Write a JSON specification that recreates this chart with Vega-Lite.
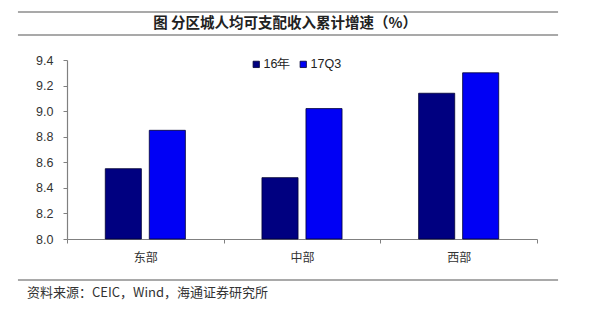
{
  "$schema": "https://vega.github.io/schema/vega-lite/v6.json",
  "autosize": "none",
  "width": 470,
  "height": 179,
  "padding": {"left": 67, "top": 60, "right": 63, "bottom": 77},
  "background": "white",
  "config": {"view": {"stroke": null}, "font": "Liberation Sans", "axisY": {"labelOverlap": false, "tickCount": 8}},
  "data": {
    "values": [
      {"region": "东部", "series": "16年", "value": 8.55},
      {"region": "东部", "series": "17Q3", "value": 8.85},
      {"region": "中部", "series": "16年", "value": 8.48},
      {"region": "中部", "series": "17Q3", "value": 9.02},
      {"region": "西部", "series": "16年", "value": 9.14},
      {"region": "西部", "series": "17Q3", "value": 9.30}
    ]
  },
  "layer": [
    {
      "mark": {"type": "bar", "stroke": "#000033", "strokeWidth": 0.8},
      "encoding": {
        "x": {
          "field": "region", "type": "nominal", "sort": ["东部", "中部", "西部"],
          "scale": {"paddingInner": 0, "paddingOuter": 0},
          "axis": {"title": null, "labelAngle": 0, "tickBand": "extent", "tickSize": 4, "labelPadding": 9,
                   "labelFont": "Noto Sans CJK SC", "labelFontSize": 12, "labelColor": "#333333",
                   "domainColor": "#808080", "tickColor": "#808080", "domainWidth": 1.2}
        },
        "xOffset": {
          "field": "series", "type": "nominal", "sort": ["16年", "17Q3"],
          "scale": {"paddingInner": 0.18, "paddingOuter": 0.87}
        },
        "y": {
          "field": "value", "type": "quantitative",
          "scale": {"domain": [8, 9.4], "zero": false, "nice": false},
          "axis": {"title": null, "values": [8, 8.2, 8.4, 8.6, 8.8, 9, 9.2, 9.4], "format": ".1f", "grid": false,
                   "labelOverlap": false, "tickSize": 4, "labelPadding": 10, "labelFontSize": 12.5, "labelColor": "#333333",
                   "domainColor": "#808080", "tickColor": "#808080", "domainWidth": 1.2}
        },
        "y2": {"datum": 8},
        "color": {
          "field": "series", "type": "nominal", "sort": ["16年", "17Q3"],
          "scale": {"range": ["#000080", "#0000F5"]},
          "legend": {"title": null, "orient": "none", "legendX": 183, "legendY": -2, "direction": "horizontal",
                     "symbolType": "square", "symbolSize": 40, "symbolStrokeColor": "#000033", "symbolStrokeWidth": 0.8,
                     "labelFontSize": 12.5, "labelColor": "#222222", "columnPadding": 6, "labelOffset": 1}
        }
      }
    },
    {
      "data": {"values": [{}]},
      "layer": [
        {
          "mark": {"type": "rule", "color": "#8c8c8c", "strokeWidth": 1.6},
          "encoding": {
            "x": {"datum": 0, "type": "quantitative", "scale": {"domain": [0.0908, 0.961], "nice": false, "zero": false}, "axis": null},
            "x2": {"datum": 1},
            "y": {"datum": 9.775, "type": "quantitative"}
          }
        },
        {
          "mark": {"type": "rule", "color": "#8c8c8c", "strokeWidth": 1.6},
          "encoding": {
            "x": {"datum": 0, "type": "quantitative", "scale": {"domain": [0.0908, 0.961], "nice": false, "zero": false}, "axis": null},
            "x2": {"datum": 1},
            "y": {"datum": 9.5955, "type": "quantitative"}
          }
        },
        {
          "mark": {"type": "rule", "color": "#8c8c8c", "strokeWidth": 1.4},
          "encoding": {
            "x": {"datum": 0, "type": "quantitative", "scale": {"domain": [0.0908, 0.961], "nice": false, "zero": false}, "axis": null},
            "x2": {"datum": 1},
            "y": {"datum": 7.679, "type": "quantitative"}
          }
        },
        {
          "mark": {"type": "text", "font": "Noto Sans CJK SC", "fontSize": 14.5, "fontWeight": "bold", "color": "#222222", "align": "center", "baseline": "middle"},
          "encoding": {
            "x": {"datum": 0.4945, "type": "quantitative", "scale": {"domain": [0.0908, 0.961], "nice": false, "zero": false}, "axis": null},
            "y": {"datum": 9.682, "type": "quantitative"},
            "text": {"value": "图  分区城人均可支配收入累计增速（%）"}
          }
        },
        {
          "mark": {"type": "text", "font": "Noto Sans CJK SC", "fontSize": 13, "color": "#333333", "align": "left", "baseline": "middle"},
          "encoding": {
            "x": {"datum": 0.0167, "type": "quantitative", "scale": {"domain": [0.0908, 0.961], "nice": false, "zero": false}, "axis": null},
            "y": {"datum": 7.578, "type": "quantitative"},
            "text": {"value": "资料来源：CEIC，Wind，海通证券研究所"}
          }
        }
      ]
    }
  ],
  "resolve": {"scale": {"x": "independent"}}
}
